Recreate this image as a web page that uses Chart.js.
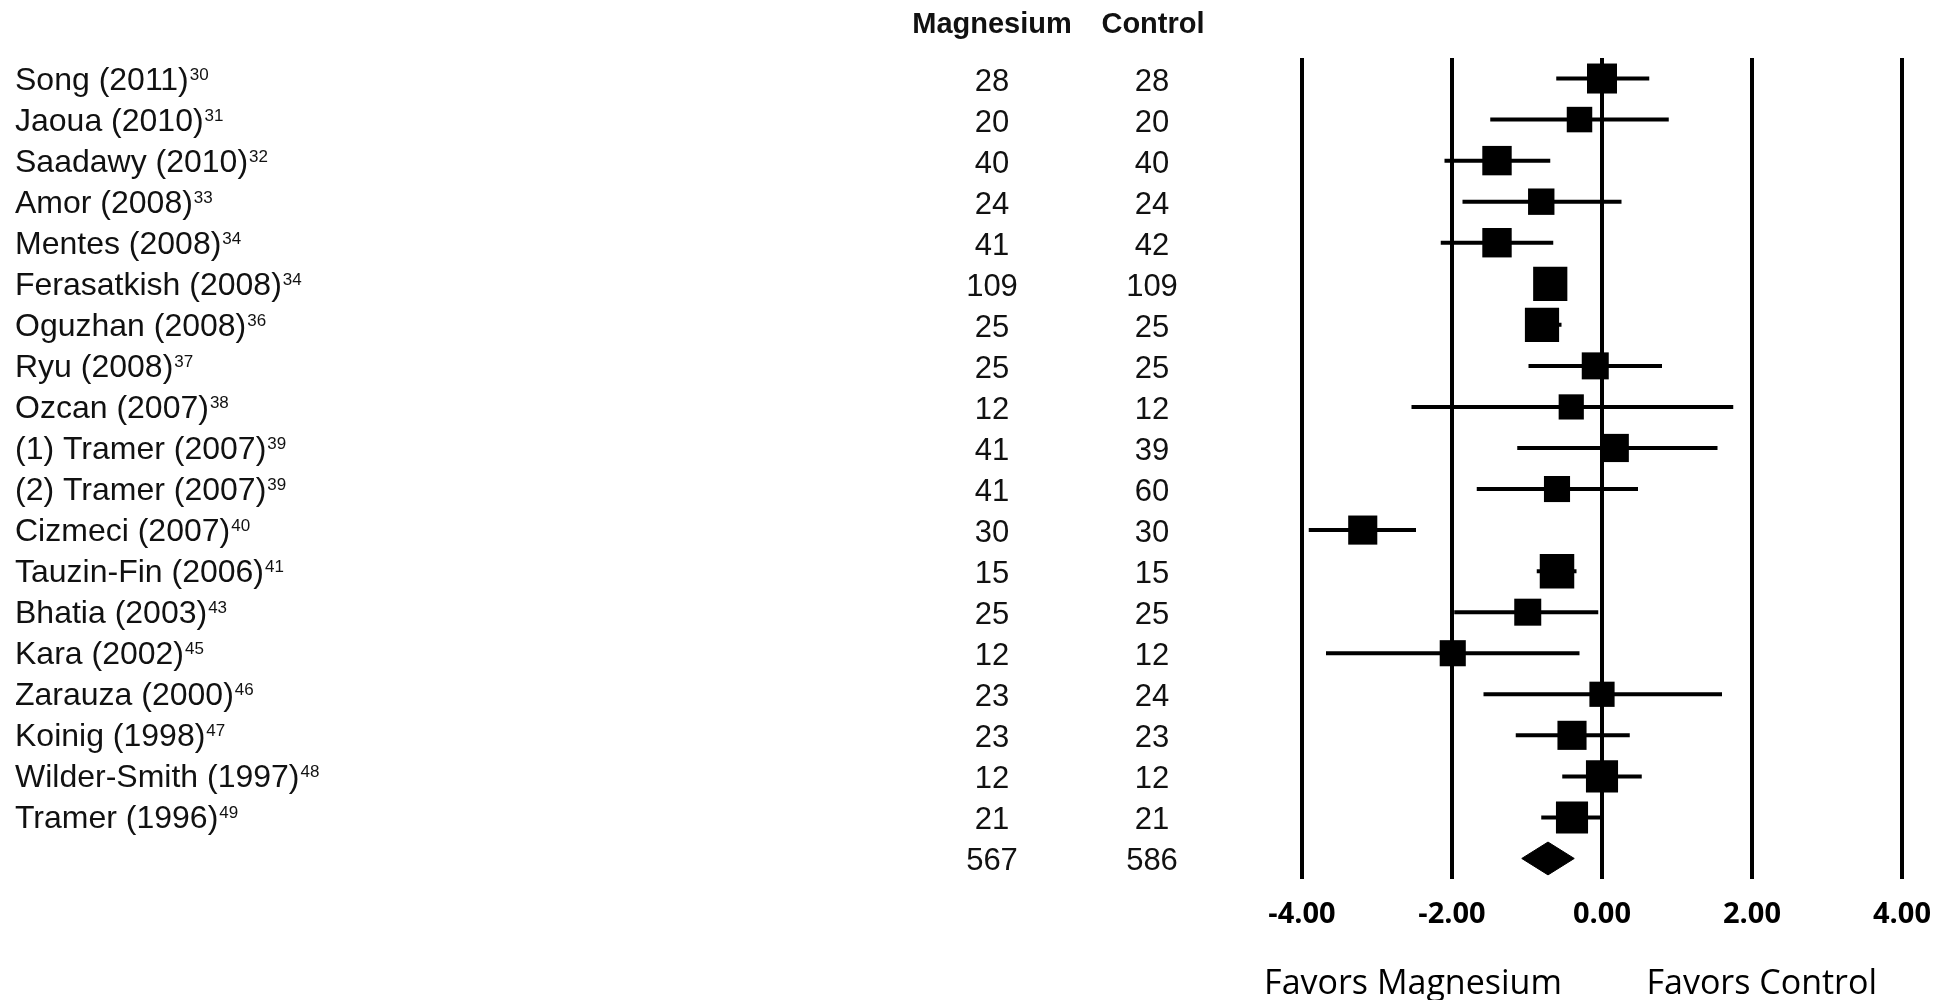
<!DOCTYPE html>
<html>
<head>
<meta charset="utf-8">
<title>Forest plot</title>
<script src="https://cdn.jsdelivr.net/npm/chart.js@4.4.0/dist/chart.umd.min.js"></script>
<style>
  html, body { margin: 0; padding: 0; background: #fff; }
  canvas { display: block; }
</style>
</head>
<body>
<canvas id="forest" width="1936" height="1000"></canvas>
<script>
// study rows, top to bottom
const studies = [
    'Song (2011)', 'Jaoua (2010)', 'Saadawy (2010)', 'Amor (2008)', 'Mentes (2008)',
    'Ferasatkish (2008)', 'Oguzhan (2008)', 'Ryu (2008)', 'Ozcan (2007)', '(1) Tramer (2007)',
    '(2) Tramer (2007)', 'Cizmeci (2007)', 'Tauzin-Fin (2006)', 'Bhatia (2003)', 'Kara (2002)',
    'Zarauza (2000)', 'Koinig (1998)', 'Wilder-Smith (1997)', 'Tramer (1996)'
];
const refs = ['30', '31', '32', '33', '34', '34', '36', '37', '38', '39', '39', '40', '41', '43', '45', '46', '47', '48', '49'];
const nMagnesium = [28, 20, 40, 24, 41, 109, 25, 25, 12, 41, 41, 30, 15, 25, 12, 23, 23, 12, 21];
const nControl = [28, 20, 40, 24, 42, 109, 25, 25, 12, 39, 60, 30, 15, 25, 12, 24, 23, 12, 21];
const totalMagnesium = 567;
const totalControl = 586;

// effect sizes with confidence limits
const estimates = [0.00, -0.30, -1.40, -0.81, -1.40, -0.69, -0.80, -0.09, -0.41, 0.17, -0.60, -3.19, -0.60, -0.99, -1.99, 0.00, -0.40, 0.00, -0.40];
const lower = [-0.61, -1.49, -2.10, -1.86, -2.15, -0.85, -0.95, -0.98, -2.54, -1.13, -1.67, -3.91, -0.87, -1.97, -3.68, -1.58, -1.15, -0.53, -0.81];
const upper = [0.63, 0.89, -0.69, 0.26, -0.65, -0.55, -0.54, 0.80, 1.75, 1.54, 0.48, -2.48, -0.34, -0.05, -0.30, 1.60, 0.37, 0.53, -0.02];
const weights = [5.0, 4.25, 4.9, 4.4, 4.9, 5.7, 5.7, 4.5, 4.2, 4.7, 4.35, 4.85, 5.75, 4.5, 4.35, 4.2, 4.85, 5.35, 5.35];

// pooled estimate
const pooledEstimate = -0.72;
const pooledLower = -1.07;
const pooledUpper = -0.37;

const xTicks = [-4, -2, 0, 2, 4];

const totalRow = studies.length;
const textFont = '"Liberation Sans", Arial, sans-serif';

const ciData = [];
studies.forEach((s, i) => {
    ciData.push({ x: lower[i], y: i }, { x: upper[i], y: i }, { x: null, y: null });
});

const diamondData = [
    { x: pooledLower, y: totalRow },
    { x: pooledEstimate, y: totalRow - 0.4 },
    { x: pooledUpper, y: totalRow },
    { x: pooledEstimate, y: totalRow + 0.4 },
    { x: pooledLower, y: totalRow }
];

const tableText = {
    id: 'tableText',
    afterDraw(chart) {
        const ctx = chart.ctx;
        const ys = chart.scales.y;
        const xs = chart.scales.x;
        ctx.save();
        ctx.fillStyle = '#111';

        ctx.textAlign = 'center';
        ctx.textBaseline = 'alphabetic';
        ctx.font = 'bold 29px ' + textFont;
        ctx.fillText('Magnesium', 992, 33);
        ctx.fillText('Control', 1153, 33);

        studies.forEach((name, i) => {
            const py = ys.getPixelForValue(i);
            ctx.textAlign = 'left';
            ctx.font = '32px ' + textFont;
            ctx.fillText(name, 15, py + 11);
            const w = ctx.measureText(name).width;
            ctx.font = '17px ' + textFont;
            ctx.fillText(refs[i], 15 + w + 1, py + 1);

            ctx.textAlign = 'center';
            ctx.font = '31px ' + textFont;
            ctx.fillText(String(nMagnesium[i]), 992, py + 12);
            ctx.fillText(String(nControl[i]), 1152, py + 12);
        });

        const ty = ys.getPixelForValue(totalRow);
        ctx.fillText(String(totalMagnesium), 992, ty + 12);
        ctx.fillText(String(totalControl), 1152, ty + 12);

        ctx.font = '34px "Open Sans", sans-serif';
        ctx.fillStyle = '#000';
        ctx.fillText('Favors Magnesium', xs.getPixelForValue(-2.52), 994);
        ctx.fillText('Favors Control', xs.getPixelForValue(2.13), 994);
        ctx.restore();
    }
};

const ctx = document.getElementById('forest').getContext('2d');
const chart = new Chart(ctx, {
    data: {
        datasets: [
            {
                type: 'scatter',
                data: estimates.map((v, i) => ({ x: v, y: i })),
                pointStyle: 'rect',
                pointRadius: weights.map(w => w * 6 / Math.SQRT2),
                backgroundColor: '#000',
                borderWidth: 0,
                order: 0
            },
            {
                type: 'line',
                data: ciData,
                borderColor: '#000',
                borderWidth: 4,
                pointRadius: 0,
                spanGaps: false,
                order: 1
            },
            {
                type: 'line',
                data: diamondData,
                borderColor: '#000',
                backgroundColor: '#000',
                borderWidth: 1,
                pointRadius: 0,
                fill: 'shape',
                order: 0
            }
        ]
    },
    options: {
        responsive: false,
        animation: false,
        layout: { padding: { left: 1302, right: 34, top: 58, bottom: 0 } },
        plugins: {
            legend: { display: false },
            tooltip: { enabled: false }
        },
        scales: {
            x: {
                type: 'linear',
                min: -4,
                max: 4,
                afterBuildTicks: s => { s.ticks = xTicks.map(v => ({ value: v })); },
                afterFit: s => {
                    s.height = 121;
                    s.paddingLeft = 0;
                    s.paddingRight = 0;
                },
                border: { display: false },
                grid: { color: '#000', lineWidth: 4, drawTicks: false },
                ticks: {
                    padding: 18,
                    color: '#000',
                    maxRotation: 0,
                    font: { family: '"Open Sans", sans-serif', weight: 'bold', size: 29 },
                    callback: v => v.toFixed(2)
                }
            },
            y: {
                type: 'linear',
                reverse: true,
                min: -0.5,
                max: totalRow + 0.5,
                display: false
            }
        }
    },
    plugins: [tableText]
});
</script>
</body>
</html>
